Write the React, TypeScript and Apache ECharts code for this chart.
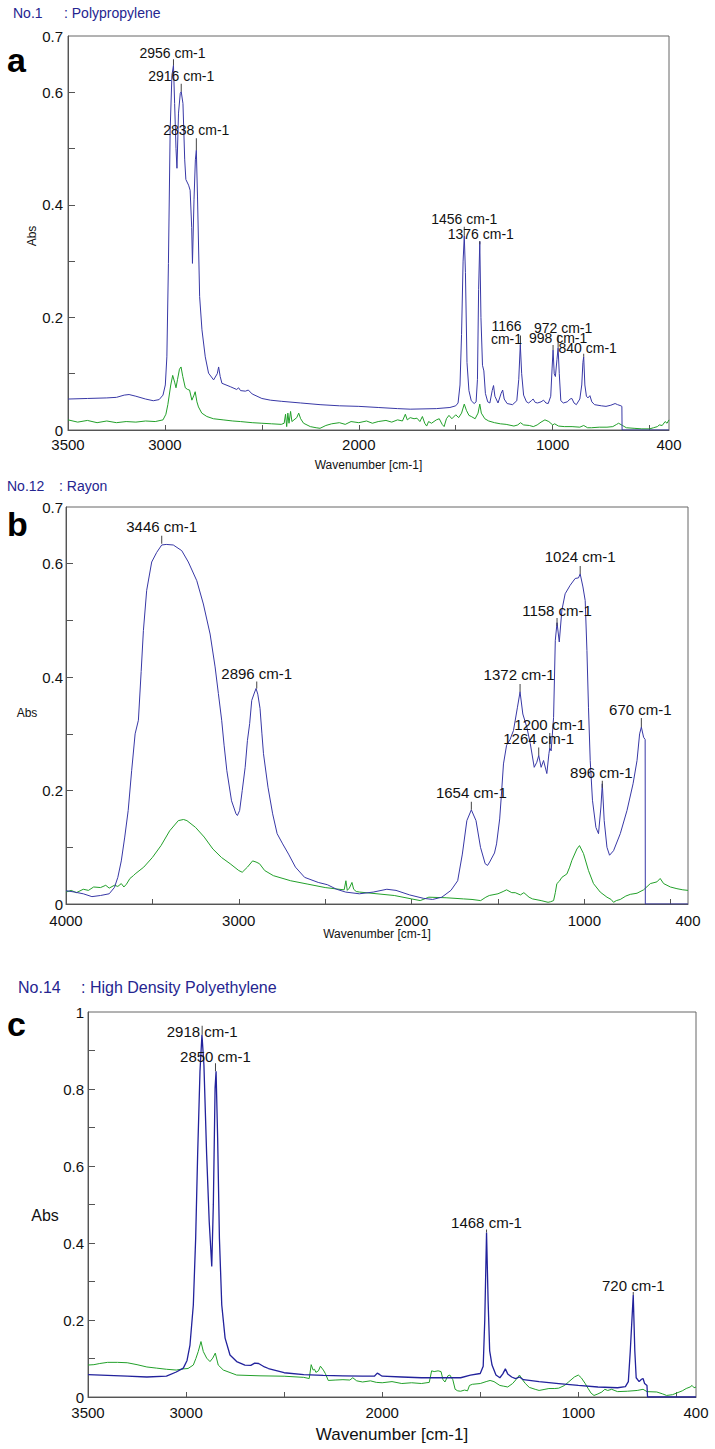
import React, { useEffect, useRef } from "react";
import * as echarts from "echarts";

// ---------------- data ----------------
const titlesNo = ["No.1", "No.12", "No.14"];
const titlesName = [": Polypropylene", ": Rayon", ": High Density Polyethylene"];
const panelLetters = ["a", "b", "c"];
const xAxisTitle = "Wavenumber [cm-1]";
const yAxisTitle = "Abs";

const xRanges = [[400, 3500], [400, 4000], [400, 3500]];
const yMax = [0.7, 0.7, 1];
const xLabelValues = [[3500, 3000, 2000, 1000, 400], [4000, 3000, 2000, 1000, 400], [3500, 3000, 2000, 1000, 400]];
const xTickValues = [[3000, 2500, 2000, 1500, 1000, 500], [3500, 3000, 2500, 2000, 1500, 1000, 500], [3000, 2500, 2000, 1500, 1000, 500]];
const yLabelValues = [[0, 0.2, 0.4, 0.6, 0.7], [0, 0.2, 0.4, 0.6, 0.7], [0, 0.2, 0.4, 0.6, 0.8, 1]];
const yTickValues = [[0.1, 0.2, 0.3, 0.4, 0.5, 0.6], [0.1, 0.2, 0.3, 0.4, 0.5, 0.6], [0.1, 0.2, 0.3, 0.4, 0.5, 0.6, 0.7, 0.8, 0.9]];

const ppSample = [[3500,0.055],[3400,0.056],[3300,0.057],[3250,0.058],[3210,0.062],[3185,0.063],[3150,0.06],[3100,0.055],[3060,0.052],[3030,0.054],[3010,0.062],[2998,0.08],[2990,0.13],[2982,0.296],[2973,0.533],[2964,0.63],[2956,0.648],[2950,0.58],[2943,0.5],[2938,0.465],[2930,0.563],[2921,0.598],[2916,0.601],[2907,0.58],[2898,0.48],[2892,0.445],[2878,0.435],[2870,0.426],[2862,0.36],[2858,0.296],[2850,0.41],[2843,0.48],[2838,0.497],[2832,0.414],[2821,0.237],[2809,0.178],[2792,0.13],[2775,0.101],[2749,0.089],[2730,0.1],[2723,0.112],[2715,0.095],[2706,0.083],[2663,0.077],[2630,0.072],[2620,0.075],[2610,0.07],[2585,0.069],[2570,0.071],[2550,0.064],[2500,0.056],[2456,0.053],[2400,0.051],[2300,0.048],[2200,0.045],[2100,0.043],[2000,0.042],[1900,0.04],[1800,0.038],[1735,0.037],[1600,0.038],[1530,0.04],[1500,0.043],[1488,0.048],[1478,0.08],[1470,0.17],[1462,0.3],[1456,0.345],[1450,0.28],[1442,0.12],[1432,0.07],[1420,0.052],[1405,0.047],[1395,0.05],[1388,0.09],[1382,0.25],[1376,0.335],[1370,0.2],[1362,0.115],[1355,0.105],[1347,0.065],[1335,0.05],[1324,0.048],[1312,0.07],[1305,0.079],[1298,0.06],[1282,0.048],[1266,0.065],[1258,0.071],[1250,0.055],[1235,0.047],[1207,0.045],[1185,0.052],[1175,0.09],[1167,0.152],[1160,0.1],[1150,0.062],[1135,0.05],[1124,0.048],[1110,0.052],[1101,0.055],[1090,0.049],[1078,0.048],[1060,0.05],[1047,0.053],[1035,0.048],[1023,0.047],[1010,0.06],[1003,0.11],[998,0.142],[992,0.1],[986,0.095],[978,0.125],[972,0.146],[966,0.1],[958,0.052],[945,0.048],[925,0.05],[910,0.055],[901,0.056],[890,0.048],[878,0.045],[860,0.055],[850,0.08],[844,0.12],[840,0.13],[834,0.08],[826,0.06],[818,0.057],[808,0.061],[798,0.05],[784,0.045],[749,0.043],[725,0.042],[700,0.044],[678,0.047],[665,0.045],[648,0.043],[643,0.042],[642,0],[400,0]];
const ppRef = [[3500,0.018],[3450,0.014],[3400,0.017],[3350,0.013],[3300,0.016],[3250,0.013],[3200,0.015],[3150,0.014],[3100,0.016],[3050,0.015],[3010,0.018],[2995,0.028],[2985,0.045],[2970,0.08],[2960,0.097],[2950,0.085],[2943,0.075],[2935,0.09],[2925,0.108],[2917,0.112],[2908,0.095],[2895,0.075],[2883,0.072],[2873,0.071],[2861,0.053],[2850,0.062],[2844,0.068],[2835,0.05],[2827,0.041],[2810,0.03],[2784,0.024],[2750,0.02],[2700,0.018],[2650,0.016],[2611,0.015],[2550,0.013],[2500,0.012],[2450,0.011],[2400,0.01],[2385,0.012],[2378,0.028],[2372,0.006],[2366,0.03],[2360,0.012],[2352,0.033],[2345,0.015],[2320,0.022],[2310,0.03],[2300,0.02],[2285,0.012],[2250,0.006],[2220,0.004],[2200,0.003],[2170,0.008],[2140,0.011],[2100,0.013],[2070,0.01],[2040,0.015],[2000,0.013],[1960,0.016],[1930,0.012],[1900,0.015],[1860,0.017],[1830,0.014],[1800,0.018],[1775,0.016],[1760,0.028],[1750,0.018],[1735,0.022],[1715,0.02],[1700,0.021],[1685,0.015],[1672,0.024],[1660,0.012],[1650,0.007],[1640,0.015],[1625,0.012],[1600,0.018],[1585,0.02],[1570,0.01],[1560,0.006],[1548,0.02],[1535,0.026],[1520,0.02],[1500,0.027],[1485,0.022],[1470,0.03],[1456,0.046],[1445,0.035],[1432,0.026],[1420,0.024],[1400,0.02],[1385,0.03],[1376,0.046],[1368,0.03],[1350,0.02],[1330,0.016],[1300,0.013],[1270,0.011],[1240,0.01],[1200,0.007],[1180,0.009],[1166,0.013],[1150,0.009],[1120,0.008],[1100,0.006],[1080,0.009],[1060,0.014],[1040,0.018],[1020,0.015],[1000,0.009],[990,0.011],[970,0.007],[940,0.006],[900,0.006],[860,0.005],[840,0.008],[820,0.004],[800,0.004],[760,0.005],[720,0.005],[690,0.006],[670,0.01],[660,0.012],[640,0.008],[620,0.004],[580,0.003],[540,0.002],[500,0.002],[480,0.004],[460,0.006],[450,0.009],[435,0.008],[420,0.015],[410,0.012],[400,0.018]];

const rayonSample = [[4000,0.0235],[3950,0.021],[3900,0.018],[3850,0.013],[3800,0.015],[3750,0.018],[3720,0.029],[3700,0.047],[3680,0.076],[3660,0.118],[3640,0.165],[3620,0.235],[3600,0.3],[3581,0.324],[3565,0.41],[3552,0.482],[3533,0.553],[3504,0.603],[3475,0.62],[3446,0.633],[3420,0.634],[3379,0.633],[3330,0.623],[3292,0.603],[3243,0.57],[3205,0.529],[3166,0.476],[3137,0.418],[3118,0.371],[3099,0.324],[3085,0.28],[3069,0.235],[3042,0.182],[3016,0.159],[3008,0.156],[2995,0.165],[2980,0.2],[2963,0.241],[2950,0.288],[2937,0.318],[2925,0.359],[2910,0.372],[2900,0.38],[2890,0.37],[2877,0.345],[2866,0.3],[2857,0.265],[2831,0.206],[2804,0.159],[2778,0.124],[2746,0.106],[2712,0.088],[2672,0.065],[2619,0.047],[2540,0.038],[2487,0.034],[2434,0.026],[2381,0.021],[2302,0.018],[2222,0.021],[2143,0.026],[2090,0.024],[2011,0.016],[1931,0.01],[1878,0.008],[1825,0.012],[1772,0.024],[1733,0.041],[1706,0.088],[1680,0.147],[1654,0.166],[1627,0.147],[1601,0.1],[1574,0.071],[1560,0.068],[1548,0.074],[1520,0.09],[1508,0.106],[1490,0.15],[1481,0.188],[1468,0.247],[1450,0.28],[1430,0.29],[1410,0.306],[1387,0.347],[1372,0.374],[1356,0.335],[1333,0.312],[1313,0.283],[1290,0.241],[1275,0.25],[1264,0.262],[1250,0.241],[1236,0.253],[1217,0.23],[1205,0.265],[1200,0.275],[1192,0.27],[1178,0.329],[1168,0.465],[1158,0.496],[1145,0.462],[1130,0.518],[1111,0.547],[1082,0.562],[1053,0.574],[1034,0.575],[1024,0.582],[1008,0.559],[995,0.535],[985,0.447],[976,0.347],[966,0.253],[953,0.183],[933,0.135],[918,0.124],[904,0.171],[896,0.212],[885,0.147],[869,0.1],[854,0.086],[831,0.094],[792,0.124],[753,0.165],[718,0.212],[695,0.253],[680,0.3],[670,0.312],[657,0.294],[648,0.29],[647,0],[400,0]];
const rayonRef = [[4000,0.021],[3970,0.024],[3940,0.02],[3900,0.026],[3870,0.024],[3840,0.03],[3800,0.029],[3770,0.033],[3750,0.028],[3720,0.033],[3700,0.031],[3680,0.036],[3665,0.03],[3650,0.035],[3630,0.045],[3610,0.05],[3600,0.053],[3550,0.065],[3500,0.082],[3450,0.103],[3400,0.129],[3350,0.147],[3320,0.149],[3300,0.147],[3250,0.135],[3200,0.118],[3150,0.097],[3100,0.082],[3050,0.071],[3000,0.059],[2980,0.056],[2950,0.065],[2920,0.076],[2900,0.074],[2880,0.071],[2850,0.059],[2800,0.05],[2700,0.041],[2600,0.035],[2500,0.029],[2420,0.026],[2390,0.025],[2380,0.041],[2372,0.024],[2360,0.028],[2345,0.038],[2335,0.026],[2320,0.022],[2300,0.021],[2200,0.018],[2100,0.015],[2000,0.009],[1950,0.006],[1900,0.012],[1800,0.011],[1700,0.009],[1650,0.008],[1600,0.006],[1570,0.012],[1550,0.015],[1500,0.018],[1470,0.022],[1450,0.025],[1420,0.02],[1400,0.02],[1370,0.016],[1350,0.02],[1320,0.012],[1300,0.009],[1250,0.006],[1210,0.003],[1195,0.004],[1178,0.006],[1168,0.02],[1159,0.036],[1145,0.04],[1130,0.047],[1101,0.053],[1085,0.065],[1072,0.077],[1043,0.097],[1028,0.103],[1005,0.089],[976,0.059],[947,0.036],[908,0.021],[869,0.012],[845,0.008],[831,0.003],[815,0.006],[792,0.008],[760,0.014],[734,0.017],[695,0.019],[657,0.025],[618,0.036],[580,0.039],[561,0.045],[541,0.036],[502,0.03],[464,0.027],[430,0.025],[400,0.024]];

const hdpeSample = [[3500,0.058],[3400,0.056],[3300,0.054],[3200,0.052],[3100,0.054],[3050,0.065],[3014,0.075],[2995,0.095],[2980,0.135],[2963,0.239],[2951,0.413],[2941,0.629],[2929,0.846],[2919,0.941],[2909,0.863],[2895,0.629],[2882,0.456],[2869,0.339],[2861,0.499],[2852,0.803],[2847,0.846],[2839,0.673],[2830,0.413],[2818,0.239],[2801,0.153],[2776,0.109],[2742,0.092],[2700,0.083],[2670,0.082],[2650,0.088],[2630,0.087],[2600,0.078],[2580,0.074],[2500,0.063],[2400,0.058],[2300,0.056],[2200,0.055],[2100,0.054],[2040,0.054],[2025,0.062],[2012,0.058],[2000,0.054],[1900,0.052],[1800,0.05],[1700,0.05],[1600,0.05],[1550,0.057],[1500,0.061],[1485,0.08],[1477,0.2],[1468,0.427],[1460,0.25],[1452,0.12],[1440,0.083],[1420,0.057],[1400,0.05],[1385,0.06],[1372,0.073],[1360,0.06],[1340,0.052],[1320,0.048],[1300,0.052],[1280,0.045],[1200,0.04],[1100,0.035],[1000,0.03],[900,0.026],[800,0.024],[760,0.027],[745,0.04],[735,0.12],[720,0.265],[712,0.12],[705,0.05],[690,0.04],[678,0.046],[670,0.048],[662,0.035],[650,0.03],[648,0.03],[647,0],[400,0]];
const hdpeRef = [[3500,0.083],[3470,0.084],[3440,0.087],[3400,0.09],[3350,0.09],[3300,0.089],[3250,0.084],[3200,0.078],[3150,0.075],[3100,0.072],[3050,0.07],[3014,0.073],[2990,0.074],[2963,0.083],[2950,0.1],[2938,0.118],[2924,0.144],[2912,0.118],[2895,0.101],[2878,0.092],[2864,0.101],[2851,0.114],[2836,0.083],[2810,0.07],[2742,0.057],[2623,0.055],[2500,0.054],[2400,0.051],[2372,0.048],[2362,0.084],[2352,0.07],[2345,0.072],[2338,0.064],[2325,0.068],[2315,0.08],[2300,0.07],[2290,0.061],[2275,0.043],[2240,0.044],[2200,0.045],[2165,0.044],[2150,0.05],[2130,0.042],[2100,0.039],[2060,0.042],[2030,0.038],[2000,0.037],[1950,0.04],[1900,0.035],[1850,0.037],[1800,0.035],[1760,0.038],[1748,0.068],[1735,0.066],[1715,0.068],[1700,0.066],[1690,0.045],[1680,0.039],[1665,0.055],[1655,0.057],[1640,0.045],[1628,0.02],[1615,0.016],[1600,0.015],[1580,0.018],[1565,0.016],[1555,0.03],[1540,0.033],[1500,0.035],[1470,0.04],[1450,0.043],[1430,0.04],[1400,0.03],[1380,0.028],[1360,0.026],[1335,0.035],[1318,0.045],[1300,0.057],[1285,0.045],[1270,0.035],[1250,0.025],[1220,0.02],[1200,0.017],[1170,0.02],[1150,0.022],[1120,0.022],[1100,0.023],[1070,0.03],[1050,0.039],[1020,0.052],[1000,0.057],[985,0.05],[965,0.035],[950,0.022],[935,0.01],[920,0.004],[900,0.008],[880,0.013],[865,0.02],[850,0.017],[830,0.02],[800,0.014],[750,0.015],[700,0.017],[670,0.02],[650,0.014],[600,0.013],[570,0.008],[550,0.004],[520,0.006],[500,0.01],[470,0.016],[450,0.022],[430,0.026],[420,0.03],[410,0.024],[400,0.026]];

const peaksWnA = [2956, 2916, 2838, 1456, 1376, 1166, 998, 972, 840];
const peaksAbsA = [0.648, 0.601, 0.497, 0.345, 0.33, 0.152, 0.142, 0.146, 0.13];
const peaksWnB = [3446, 2896, 1654, 1372, 1264, 1200, 1158, 1024, 896, 670];
const peaksAbsB = [0.635, 0.38, 0.166, 0.374, 0.262, 0.275, 0.49, 0.582, 0.205, 0.312];
const peaksWnC = [2918, 2850, 1468, 720];
const peaksAbsC = [0.941, 0.846, 0.427, 0.265];

// label placement styles: [dx, dy, tickLength] in px relative to peak
const peakStyleA = [[-1, -12, 6], [0, -16, 8], [0, -20, 12], [0, -17, 9], [1, -10, 3], [-14, -12, 9], [5, -12, 5], [5, -20, 13], [4, -9, 3]];
const peakStyleB = [[0, -17, 8], [0, -15, 7], [0, -17, 8], [-1, -17, 8], [0, -17, 8], [0, -24, 15], [0, -16, 8], [0, -17, 8], [-1, -15, 7], [-1, -18, 9]];
const peakStyleC = [[0, -3, 9], [0, -15, 8], [0, -10, 3], [0, -9, 3]];

// ---------------- styles ----------------
const FONT = '"Liberation Sans", Arial, Helvetica, sans-serif';
const grids = [
  { left: 68, top: 36, width: 601, height: 394 },
  { left: 66, top: 507, width: 622, height: 397 },
  { left: 88, top: 1012, width: 608, height: 385 },
];
const blueColors = ["#3838a6", "#3838a6", "#22229c"];
const greenColor = "#22a02a";
const titleColor = "#252590";
const tickFont = [15, 15, 15];
const peakFont = [14, 15, 15];
const xNameFont = [12, 12, 17];
const xNameGap = [29, 24, 29];
const xLabelMargin = [7, 9, 8];
const samples = [ppSample, rayonSample, hdpeSample];
const refs = [ppRef, rayonRef, hdpeRef];
const peakWns = [peaksWnA, peaksWnB, peaksWnC];
const peakAbs = [peaksAbsA, peaksAbsB, peaksAbsC];
const peakStyles = [peakStyleA, peakStyleB, peakStyleC];

function peakText(wn: number): string {
  return wn === 1166 ? "1166\ncm-1" : `${wn} cm-1`;
}

function buildOption() {
  const xAxis: any[] = [];
  const yAxis: any[] = [];
  const series: any[] = [];
  for (let i = 0; i < 3; i++) {
    xAxis.push({
      type: "value",
      gridIndex: i,
      inverse: true,
      min: xRanges[i][0],
      max: xRanges[i][1],
      name: xAxisTitle,
      nameLocation: "middle",
      nameGap: xNameGap[i],
      nameMoveOverlap: false,
      nameTextStyle: { fontFamily: FONT, fontSize: xNameFont[i], color: "#111" },
      axisLine: { show: true, lineStyle: { color: "#555", width: 1 } },
      axisTick: { show: true, inside: true, length: 5, customValues: xTickValues[i], lineStyle: { color: "#555" } },
      axisLabel: {
        show: true,
        customValues: xLabelValues[i],
        margin: xLabelMargin[i],
        fontFamily: FONT,
        fontSize: tickFont[i],
        color: "#111",
        formatter: (v: number) => String(Math.round(v)),
      },
      splitLine: { show: false },
    });
    yAxis.push({
      type: "value",
      gridIndex: i,
      min: 0,
      max: yMax[i],
      axisLine: { show: true, lineStyle: { color: "#555", width: 1 } },
      axisTick: { show: true, inside: true, length: 7, customValues: yTickValues[i], lineStyle: { color: "#555" } },
      axisLabel: {
        show: true,
        customValues: yLabelValues[i],
        margin: i === 1 ? 3 : i === 2 ? 4 : 5,
        fontFamily: FONT,
        fontSize: tickFont[i],
        color: "#111",
        formatter: (v: number) => String(Math.round(v * 10) / 10),
      },
      splitLine: { show: false },
    });
    series.push({
      type: "line",
      xAxisIndex: i,
      yAxisIndex: i,
      data: refs[i],
      showSymbol: false,
      symbol: "none",
      silent: true,
      lineStyle: { color: greenColor, width: 1 },
      z: 2,
    });
    series.push({
      type: "line",
      xAxisIndex: i,
      yAxisIndex: i,
      data: samples[i],
      showSymbol: false,
      symbol: "none",
      silent: true,
      lineStyle: { color: blueColors[i], width: i === 2 ? 1.3 : 1 },
      z: 3,
      markPoint: {
        silent: true,
        animation: false,
        data: peakWns[i].map((wn, k) => {
          const [dx, dy, L] = peakStyles[i][k];
          return {
            coord: [wn, peakAbs[i][k]],
            symbol: "rect",
            symbolSize: [1, L],
            symbolOffset: [0, -L / 2],
            itemStyle: { color: "#444" },
            label: {
              show: true,
              position: [0.5 + dx, L + dy],
              align: "center",
              verticalAlign: "middle",
              formatter: peakText(wn),
              fontFamily: FONT,
              fontSize: peakFont[i],
              lineHeight: 13,
              color: "#111",
            },
          };
        }),
      },
    });
  }

  const titleY = [12.5, 486, 987];
  const noX = [13, 7, 18];
  const nameX = [64, 59, 81];
  const titleFont = [14, 14, 16];
  const letterY = [60, 524, 1024];
  const absPos = [[32, 236], [27, 713], [45, 1215]];
  const absFont = [12, 12, 16];
  const graphic: any[] = [];
  for (let i = 0; i < 3; i++) {
    graphic.push({
      type: "text", x: noX[i], y: titleY[i], silent: true,
      style: { text: titlesNo[i], fill: titleColor, font: `${titleFont[i]}px ${FONT}`, textAlign: "left", textVerticalAlign: "middle", align: "left", verticalAlign: "middle" },
    });
    graphic.push({
      type: "text", x: nameX[i], y: titleY[i], silent: true,
      style: { text: titlesName[i], fill: titleColor, font: `${titleFont[i]}px ${FONT}`, textAlign: "left", textVerticalAlign: "middle", align: "left", verticalAlign: "middle" },
    });
    graphic.push({
      type: "text", x: 7, y: letterY[i], silent: true,
      style: { text: panelLetters[i], fill: "#000", font: `bold 34px ${FONT}`, textAlign: "left", textVerticalAlign: "middle", align: "left", verticalAlign: "middle" },
    });
    graphic.push({
      type: "text", x: absPos[i][0], y: absPos[i][1], rotation: i === 0 ? Math.PI / 2 : 0, silent: true,
      style: { text: yAxisTitle, fill: "#111", font: `${absFont[i]}px ${FONT}`, textAlign: "center", textVerticalAlign: "middle", align: "center", verticalAlign: "middle" },
    });
  }

  return {
    animation: false,
    backgroundColor: "#ffffff",
    grid: grids.map((g) => ({ ...g, show: true, borderColor: "#666", borderWidth: 1, backgroundColor: "transparent" })),
    xAxis,
    yAxis,
    series,
    graphic,
  };
}

export default function App() {
  const ref = useRef<HTMLDivElement>(null);
  useEffect(() => {
    if (!ref.current) return;
    const chart = echarts.init(ref.current, null, { renderer: "svg" });
    chart.setOption(buildOption() as any);
    return () => chart.dispose();
  }, []);
  return (
    <div
      ref={ref}
      style={{ position: "fixed", left: 0, top: 0, width: 715, height: 1449, background: "#fff" }}
    />
  );
}
